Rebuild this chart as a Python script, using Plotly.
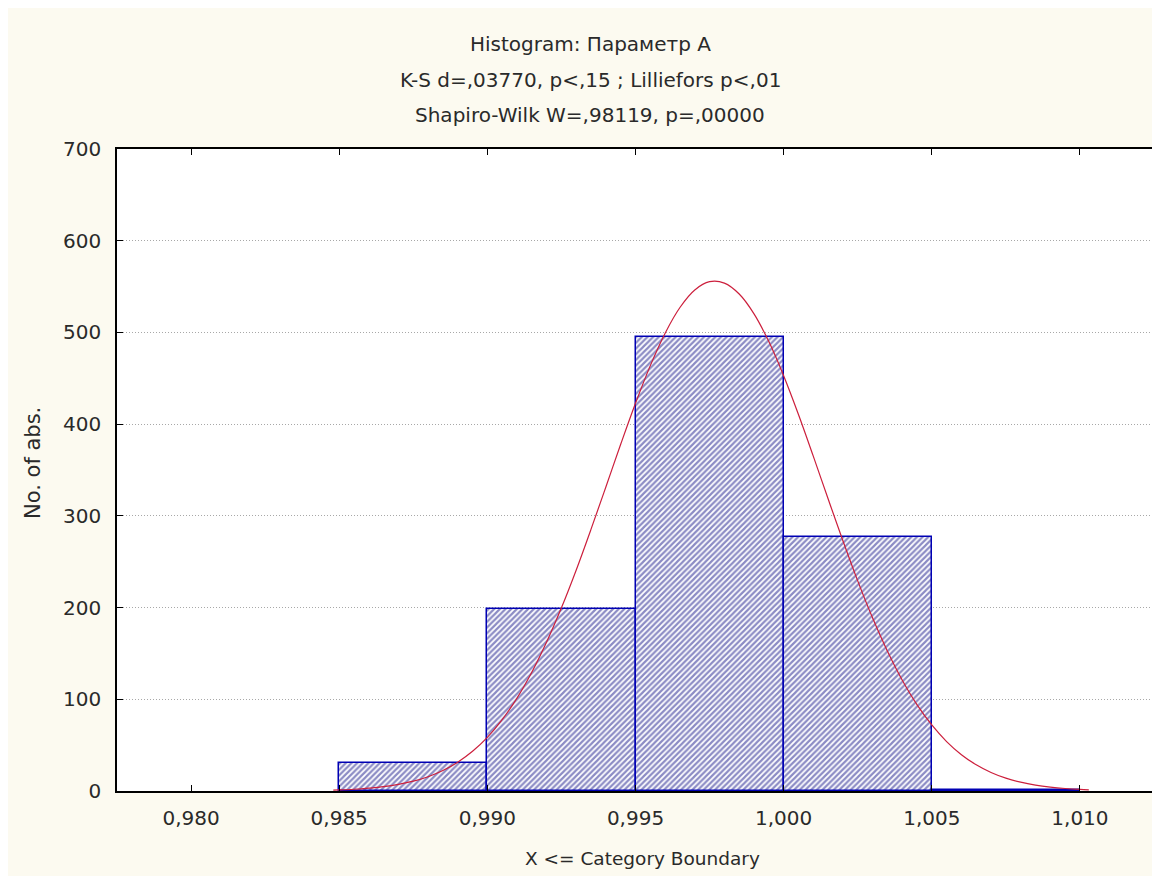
import plotly.graph_objects as go

# Histogram data (bin lower boundaries, counts)
bin_left = [0.985, 0.990, 0.995, 1.000, 1.005]
bin_width = 0.005
counts = [31, 198, 495, 277, 1]

# Fitted normal curve
curve_x = [0.9848, 0.9850, 0.9855, 0.9860, 0.9865, 0.9870, 0.9875, 0.9880, 0.9885, 0.9890,
           0.9895, 0.9900, 0.9905, 0.9910, 0.9915, 0.9920, 0.9925, 0.9930, 0.9935, 0.9940,
           0.9945, 0.9950, 0.9955, 0.9960, 0.9965, 0.9970, 0.9975, 0.9980, 0.9985, 0.9990,
           0.9995, 1.0000, 1.0005, 1.0010, 1.0015, 1.0020, 1.0025, 1.0030, 1.0035, 1.0040,
           1.0045, 1.0050, 1.0055, 1.0060, 1.0065, 1.0070, 1.0075, 1.0080, 1.0085, 1.0090,
           1.0095, 1.0100, 1.0103]
curve_y = [1.0, 1.2, 1.9, 3.1, 4.7, 7.2, 10.7, 15.6, 22.3, 31.4,
           43.3, 58.5, 77.8, 101.3, 129.5, 162.4, 199.7, 241.0, 285.5, 331.5,
           378.0, 422.7, 463.8, 499.2, 527.2, 546.3, 555.3, 553.8, 541.9, 520.3,
           490.0, 452.8, 410.5, 365.1, 318.6, 272.8, 229.1, 188.8, 152.7, 121.1,
           94.2, 72.0, 53.9, 39.6, 28.6, 20.2, 14.0, 9.6, 6.4, 4.2,
           2.7, 1.7, 1.3]

x_ticks = [0.980, 0.985, 0.990, 0.995, 1.000, 1.005, 1.010]
y_ticks = [0, 100, 200, 300, 400, 500, 600, 700]

title_lines = ["Histogram: Параметр A",
               "K-S d=,03770, p<,15 ; Lilliefors p<,01",
               "Shapiro-Wilk W=,98119, p=,00000"]
x_title = "X <= Category Boundary"
y_title = "No. of abs."

FONT = "DejaVu Sans"
TXT = "#2a2a2a"

# plot-area edges in screenshot pixels (page has an 8px body margin)
PL, PR, PT, PB = 117, 1154, 149, 791
OFF = 8

bar_centers = [b + bin_width / 2 for b in bin_left]

fig = go.Figure()
fig.add_trace(go.Bar(
    x=bar_centers, y=counts, width=bin_width,
    marker=dict(
        color="white",
        line=dict(color="#0000b4", width=1.5),
        pattern=dict(shape="/", fgcolor="#18188a", bgcolor="white", size=4, solidity=0.55),
    ),
    showlegend=False,
))
fig.add_trace(go.Scatter(
    x=curve_x, y=curve_y, mode="lines", line=dict(color="#cc1f3c", width=1.2, shape="spline"),
    showlegend=False,
))


def px(x):
    return (x - PL) / (PR - PL)


def py(y):
    return (PB - y) / (PB - PT)


annotations = []
for i, t in enumerate(title_lines):
    annotations.append(dict(text=t, xref="paper", yref="paper", x=px(590),
                            y=py(44 + 35.5 * i), xanchor="center",
                            yanchor="middle", showarrow=False,
                            font=dict(family=FONT, size=20, color=TXT)))
annotations.append(dict(text=x_title, xref="paper", yref="paper", x=px(642),
                        y=py(858), xanchor="center", yanchor="middle",
                        showarrow=False, font=dict(family=FONT, size=18.5, color=TXT)))
annotations.append(dict(text=y_title, xref="paper", yref="paper", x=px(33),
                        y=py(463), xanchor="center", yanchor="middle",
                        textangle=-90, showarrow=False,
                        font=dict(family=FONT, size=21, color=TXT)))

fig.update_layout(
    width=1160, height=876,
    margin=dict(l=PL - OFF, r=1160 - (PR - OFF), t=PT - OFF, b=876 - (PB - OFF)),
    paper_bgcolor="#fcfaf0",
    plot_bgcolor="white",
    separators=", ",
    bargap=0,
    annotations=annotations,
    font=dict(family=FONT, size=20, color=TXT),
)
fig.update_xaxes(
    range=[0.9775, 1.0125], tickvals=x_ticks, tickformat=".3f",
    ticks="inside", ticklen=6, tickcolor="black",
    showline=True, linecolor="black", linewidth=1.5, mirror="ticks",
    showgrid=False, zeroline=False, ticklabelstandoff=8,
    tickfont=dict(family=FONT, size=20, color=TXT),
)
fig.update_yaxes(
    range=[0, 700], tickvals=y_ticks,
    ticks="inside", ticklen=6, tickcolor="black",
    showline=True, linecolor="black", linewidth=1.5, mirror=True,
    showgrid=True, gridcolor="#a8a8a8", griddash="1px,2px", gridwidth=1,
    zeroline=False, ticklabelstandoff=10,
    tickfont=dict(family=FONT, size=20, color=TXT),
)

fig.write_html("out.html")
